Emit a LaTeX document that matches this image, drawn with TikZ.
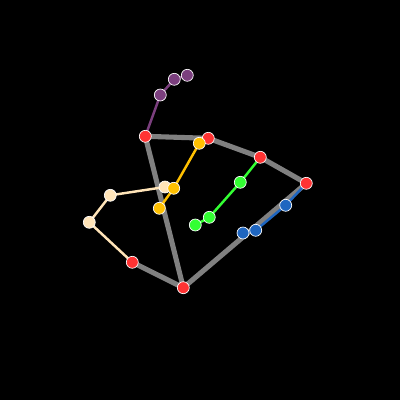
\documentclass[tikz,border=0pt]{standalone}
\usetikzlibrary{positioning}
\definecolor{jred}{RGB}{255,51,51}
\definecolor{jgray}{RGB}{128,128,128}
\definecolor{jpurple}{RGB}{123,63,126}
\definecolor{jyellow}{RGB}{255,192,0}
\definecolor{jpeach}{RGB}{255,228,184}
\definecolor{jgreen}{RGB}{51,255,51}
\definecolor{jblue}{RGB}{31,102,192}
\tikzset{
  bone/.style={jgray,line width=1.45pt},
  finger/.style={line width=0.7pt},
  joint/.style={circle,draw=white,line width=0.2pt,inner sep=0pt,minimum size=3.4pt}
}
\begin{document}
\begin{tikzpicture}[x=0.01cm,y=-0.01cm,line join=round]
  \fill[black] (0,0) rectangle (400,400);
  \useasboundingbox (0,0) rectangle (400,400);

  % palm
  \coordinate (w) at (183.3,287.7);
  \coordinate (p1) at (132.3,262.3);
  \coordinate (p2) at (145.3,136.3);
  \coordinate (p3) at (208.3,138.3);
  \coordinate (p4) at (260.3,157.3);
  \coordinate (p5) at (306.3,183.3);
  % thumb
  \coordinate (t1) at (89.3,222.3);
  \coordinate (t2) at (110.3,195.3);
  \coordinate (t3) at (165,187);
  % fingers
  \coordinate (a1) at (160.3,95);
  \coordinate (a2) at (174.3,79.3);
  \coordinate (a3) at (187.3,75.3);
  \coordinate (b1) at (199.3,143.3);
  \coordinate (b2) at (173.7,188.3);
  \coordinate (b3) at (159.3,208.3);
  \coordinate (c1) at (240.3,182.3);
  \coordinate (c2) at (209.3,217.3);
  \coordinate (c3) at (195.3,225);
  \coordinate (d1) at (285.7,205.3);
  \coordinate (d2) at (255.7,230.3);
  \coordinate (d3) at (243,233);

  \draw[bone] (p1) -- (w) -- (p5) -- (p4) -- (p3) -- (p2) -- (w);

  \draw[finger,jpeach] (p1) -- (t1) -- (t2) -- (t3);
  \draw[finger,jpurple] (p2) -- (a1) -- (a2) -- (a3);
  \draw[finger,jyellow] (p3) -- (b1) -- (b2) -- (b3);
  \draw[finger,jgreen] (p4) -- (c1) -- (c2) -- (c3);
  \draw[finger,jblue] (p5) -- (d1) -- (d2) -- (d3);

  \foreach \j in {w,p1,p2,p3,p4,p5}
    \node[joint,fill=jred] (n-\j) at (\j) {};
  \foreach \j in {t1,t2,t3}
    \node[joint,fill=jpeach] (n-\j) at (\j) {};
  \foreach \j in {a1,a2,a3}
    \node[joint,fill=jpurple] (n-\j) at (\j) {};
  \foreach \j in {b1,b2,b3}
    \node[joint,fill=jyellow] (n-\j) at (\j) {};
  \foreach \j in {c1,c2,c3}
    \node[joint,fill=jgreen] (n-\j) at (\j) {};
  \foreach \j in {d1,d2,d3}
    \node[joint,fill=jblue] (n-\j) at (\j) {};
\end{tikzpicture}
\end{document}
